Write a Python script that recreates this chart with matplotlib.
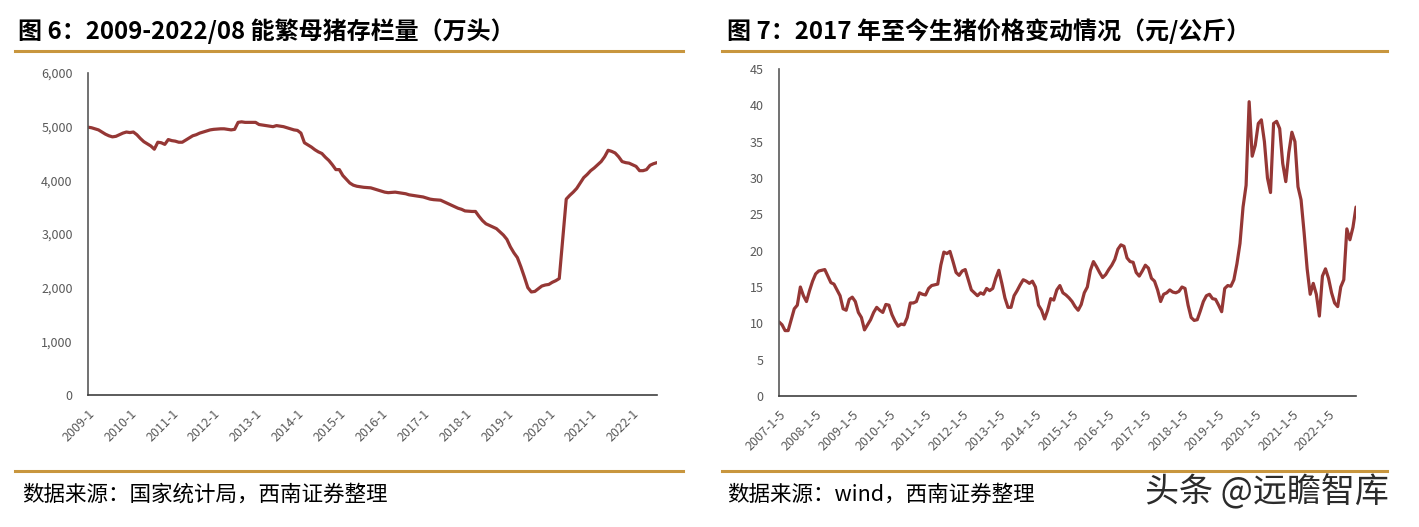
import numpy as np
import matplotlib
matplotlib.use("Agg")
import matplotlib.pyplot as plt
from matplotlib.lines import Line2D
from matplotlib.ticker import FuncFormatter

plt.rcParams['font.family'] = ['Noto Sans CJK SC', 'DejaVu Sans']

# 图6: 能繁母猪存栏量 (万头), monthly 2009-1 .. 2022-8
sow_2009 = [4990, 4980, 4960, 4940, 4900, 4860, 4830, 4810, 4820, 4850, 4880, 4900]
sow_2010 = [4890, 4900, 4850, 4780, 4720, 4680, 4640, 4580, 4710, 4700, 4670, 4760]
sow_2011 = [4740, 4730, 4710, 4710, 4750, 4790, 4830, 4850, 4880, 4900, 4920, 4940]
sow_2012 = [4950, 4955, 4960, 4960, 4950, 4940, 4950, 5080, 5090, 5080, 5080, 5080]
sow_2013 = [5080, 5040, 5030, 5020, 5010, 5000, 5020, 5010, 5000, 4980, 4960, 4940]
sow_2014 = [4930, 4880, 4700, 4660, 4620, 4570, 4530, 4500, 4430, 4370, 4290, 4200]
sow_2015 = [4200, 4090, 4020, 3950, 3910, 3890, 3880, 3870, 3865, 3860, 3840, 3820]
sow_2016 = [3800, 3780, 3770, 3775, 3780, 3770, 3760, 3750, 3730, 3720, 3710, 3700]
sow_2017 = [3690, 3670, 3650, 3640, 3635, 3630, 3600, 3570, 3540, 3510, 3480, 3460]
sow_2018 = [3430, 3425, 3420, 3420, 3330, 3250, 3190, 3160, 3130, 3100, 3040, 2980]
sow_2019 = [2900, 2760, 2650, 2560, 2390, 2200, 2000, 1920, 1930, 1980, 2030, 2050]
sow_2020 = [2060, 2100, 2130, 2170, 2900, 3650, 3720, 3780, 3850, 3950, 4050, 4110]
sow_2021 = [4180, 4230, 4290, 4350, 4440, 4560, 4540, 4510, 4440, 4350, 4330, 4320]
sow_2022 = [4290, 4260, 4180, 4180, 4200, 4280, 4310, 4330]
sow = (sow_2009 + sow_2010 + sow_2011 + sow_2012 + sow_2013 + sow_2014 + sow_2015
       + sow_2016 + sow_2017 + sow_2018 + sow_2019 + sow_2020 + sow_2021 + sow_2022)
sow_years = list(range(2009, 2023))
sow_labels = [f"{y}-1" for y in sow_years]

# 图7: 生猪价格 (元/公斤), monthly from 2007-1
hog_2007 = [10.2, 9.8, 9.0, 9.0, 10.5, 12.0, 12.5, 15.0, 13.8, 13.0, 14.5, 15.8]
hog_2008 = [16.8, 17.2, 17.3, 17.4, 16.5, 15.6, 15.4, 14.6, 13.8, 12.0, 11.8, 13.3]
hog_2009 = [13.6, 13.0, 11.5, 10.8, 9.1, 9.8, 10.5, 11.5, 12.2, 11.8, 11.5, 12.6]
hog_2010 = [12.5, 11.2, 10.3, 9.6, 9.9, 9.8, 10.8, 12.8, 12.8, 13.0, 14.2, 14.0]
hog_2011 = [13.9, 14.8, 15.2, 15.3, 15.4, 18.0, 19.8, 19.6, 19.9, 18.5, 17.0, 16.6]
hog_2012 = [17.2, 17.4, 16.0, 14.6, 14.2, 13.8, 14.2, 14.0, 14.8, 14.5, 14.8, 16.2]
hog_2013 = [17.3, 15.5, 13.5, 12.2, 12.2, 13.8, 14.5, 15.3, 16.0, 15.8, 15.5, 15.8]
hog_2014 = [15.0, 12.5, 11.8, 10.6, 11.8, 13.4, 13.2, 14.6, 15.2, 14.2, 13.9, 13.5]
hog_2015 = [13.0, 12.3, 11.8, 12.6, 14.2, 15.0, 17.3, 18.5, 17.8, 17.0, 16.3, 16.7]
hog_2016 = [17.4, 18.0, 18.8, 20.2, 20.8, 20.6, 19.0, 18.5, 18.4, 17.0, 16.5, 17.2]
hog_2017 = [18.0, 17.6, 16.2, 15.8, 14.6, 13.0, 14.0, 14.2, 14.6, 14.3, 14.2, 14.4]
hog_2018 = [15.0, 14.8, 12.5, 10.8, 10.4, 10.5, 11.7, 13.0, 13.8, 14.0, 13.4, 13.3]
hog_2019 = [12.5, 11.6, 14.8, 15.2, 15.1, 16.0, 18.2, 21.0, 26.0, 29.0, 40.5, 33.0]
hog_2020 = [34.5, 37.5, 38.0, 35.0, 30.0, 28.0, 37.5, 37.8, 36.8, 32.0, 29.5, 33.5]
hog_2021 = [36.3, 35.0, 28.8, 27.0, 22.5, 17.5, 14.0, 15.5, 14.0, 11.0, 16.5, 17.5]
hog_2022 = [16.2, 14.2, 12.8, 12.3, 15.0, 16.0, 23.0, 21.5, 23.2, 26.0]
hog = (hog_2007 + hog_2008 + hog_2009 + hog_2010 + hog_2011 + hog_2012 + hog_2013
       + hog_2014 + hog_2015 + hog_2016 + hog_2017 + hog_2018 + hog_2019 + hog_2020
       + hog_2021 + hog_2022)
hog_years = list(range(2007, 2023))
hog_labels = [f"{y}-1-5" for y in hog_years]

title_left = "图 6：2009-2022/08 能繁母猪存栏量（万头）"
title_right = "图 7：2017 年至今生猪价格变动情况（元/公斤）"
source_left = "数据来源：国家统计局，西南证券整理"
source_right = "数据来源：wind，西南证券整理"
watermark = "头条 @远瞻智库"

line_color = "#953735"
gold = "#C8963E"
tick_color = "#595959"

W, H = 1419, 527
fig = plt.figure(figsize=(W / 100, H / 100), dpi=100)


def fx(px):
    return px / W


def fy(py):
    return 1 - py / H


def style_axes(ax):
    for side in ("top", "right"):
        ax.spines[side].set_visible(False)
    ax.spines["left"].set_color("#595959")
    ax.spines["bottom"].set_color("#404040")
    ax.spines["left"].set_linewidth(1.2)
    ax.spines["bottom"].set_linewidth(1.2)
    ax.tick_params(axis="both", length=0, labelsize=9, labelcolor=tick_color)
    ax.tick_params(axis="y", pad=11)
    ax.tick_params(axis="x", pad=9)
    for lab in ax.get_xticklabels():
        lab.set_rotation(45)
        lab.set_ha("right")
        lab.set_va("top")
        lab.set_rotation_mode("anchor")


# left chart
ax1 = fig.add_axes([fx(88), fy(395), fx(657 - 88), (395 - 73) / H])
x1 = np.arange(len(sow))
ax1.plot(x1, sow, color=line_color, lw=2.3, solid_capstyle="round")
ax1.set_xlim(0, len(sow) - 1)
ax1.set_ylim(0, 6000)
ax1.set_yticks(np.arange(0, 6001, 1000))
ax1.yaxis.set_major_formatter(FuncFormatter(lambda v, p: f"{int(v):,}"))
ax1.set_xticks(np.arange(0, len(sow), 12))
ax1.set_xticklabels(sow_labels)
style_axes(ax1)

# right chart
ax2 = fig.add_axes([fx(779), fy(396), fx(1356 - 779), (396 - 69) / H])
x2 = np.arange(len(hog))
ax2.plot(x2, hog, color=line_color, lw=2.3, solid_capstyle="round")
ax2.set_xlim(0, len(hog) - 1)
ax2.set_ylim(0, 45)
ax2.set_yticks(np.arange(0, 46, 5))
ax2.set_xticks(np.arange(0, len(hog), 12))
ax2.set_xticklabels(hog_labels)
style_axes(ax2)

# titles, rules, sources
fig.text(fx(18), fy(31), title_left, fontsize=17.3, fontweight="heavy", va="center", ha="left")
fig.text(fx(727), fy(31), title_right, fontsize=17.3, fontweight="heavy", va="center", ha="left")

for x0, x1_ in [(15, 683), (722, 1387)]:
    for yy in (51, 471):
        fig.add_artist(Line2D([fx(x0), fx(x1_)], [fy(yy), fy(yy)], color=gold, lw=2.2,
                              transform=fig.transFigure))

fig.text(fx(22), fy(495), source_left, fontsize=15.5, va="center", ha="left", style="italic")
fig.text(fx(727), fy(495), source_right, fontsize=15.5, va="center", ha="left", style="italic")
fig.text(fx(1145), fy(493), watermark, fontsize=24.5, va="center", ha="left", color="#2b2b2b")

fig.savefig("out.png", dpi=100)
